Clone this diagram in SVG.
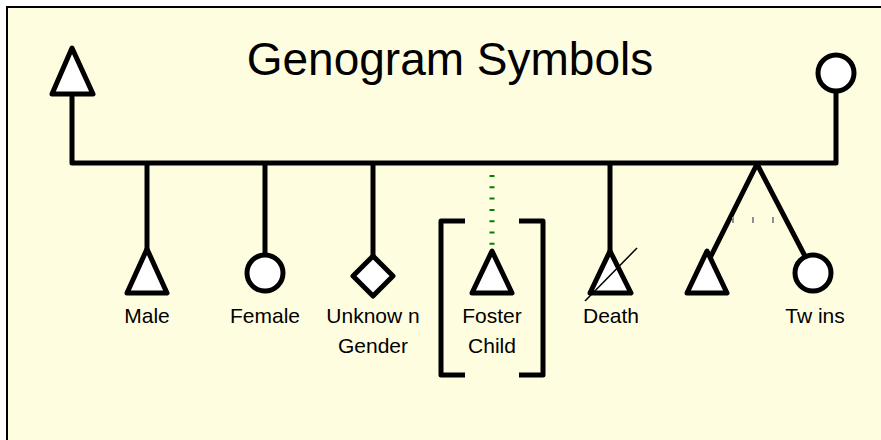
<svg xmlns="http://www.w3.org/2000/svg" width="881" height="440" viewBox="0 0 881 440">
<style>
.bg{fill:#FFFDE0;stroke:#000;stroke-width:2}
.ln{fill:none;stroke:#000;stroke-width:5;stroke-linejoin:round;stroke-linecap:butt}
.sym{fill:#fff;stroke:#000;stroke-width:5;stroke-linejoin:round}
.lbl{font-family:"Liberation Sans",Arial,sans-serif;font-size:21px;fill:#000;text-anchor:middle}
.title{font-family:"Liberation Sans",Arial,sans-serif;font-size:46px;fill:#000;text-anchor:middle}
.tick{stroke:#909090;stroke-width:2}
</style>
<rect class="bg" x="7" y="7" width="880" height="440"/>
<text class="title" x="450" y="75">Genogram Symbols</text>
<g id="connectors">
<path class="ln" d="M72 95 V163 H836 V93"/>
<line class="ln" x1="147" y1="163" x2="147" y2="250"/>
<line class="ln" x1="265" y1="163" x2="265" y2="255"/>
<line class="ln" x1="373" y1="163" x2="373" y2="256"/>
<line x1="492" y1="175" x2="492" y2="245" stroke="#008000" stroke-width="5" stroke-dasharray="2,9.3"/>
<line class="ln" x1="610" y1="163" x2="610" y2="252"/>
<path class="ln" d="M710 258 L757 164 L806 258"/>
<line class="tick" x1="733" y1="217" x2="733" y2="223"/>
<line class="tick" x1="753" y1="217" x2="753" y2="223"/>
<line class="tick" x1="773" y1="217" x2="773" y2="223"/>
</g>
<g id="father"><polygon class="sym" points="72,48 93,94 52,94"/></g>
<g id="mother"><circle class="sym" cx="836" cy="73" r="18"/></g>
<g id="male">
<polygon class="sym" points="147,249 167,293 127,293"/>
<text class="lbl" x="147" y="323">Male</text>
</g>
<g id="female">
<circle class="sym" cx="265" cy="273" r="18"/>
<text class="lbl" x="265" y="323">Female</text>
</g>
<g id="unknown">
<polygon class="sym" points="373,256 393,276 373,296 353,276"/>
<text class="lbl" x="373" y="323">Unknow n</text>
<text class="lbl" x="373" y="353">Gender</text>
</g>
<g id="foster">
<path class="ln" d="M465 221 H441 V375 H465"/>
<path class="ln" d="M519 221 H543 V375 H519"/>
<polygon class="sym" points="492,251 512,293 472,293"/>
<text class="lbl" x="492" y="323">Foster</text>
<text class="lbl" x="492" y="353">Child</text>
</g>
<g id="death">
<polygon class="sym" points="610,251 631,293 590,293"/>
<line x1="585" y1="301" x2="637" y2="248" stroke="#000" stroke-width="1.5"/>
<text class="lbl" x="611" y="323">Death</text>
</g>
<g id="twins">
<polygon class="sym" points="707,251 727,293 687,293"/>
<circle class="sym" cx="813" cy="273" r="18"/>
<text class="lbl" x="815" y="323">Tw ins</text>
</g>
</svg>
